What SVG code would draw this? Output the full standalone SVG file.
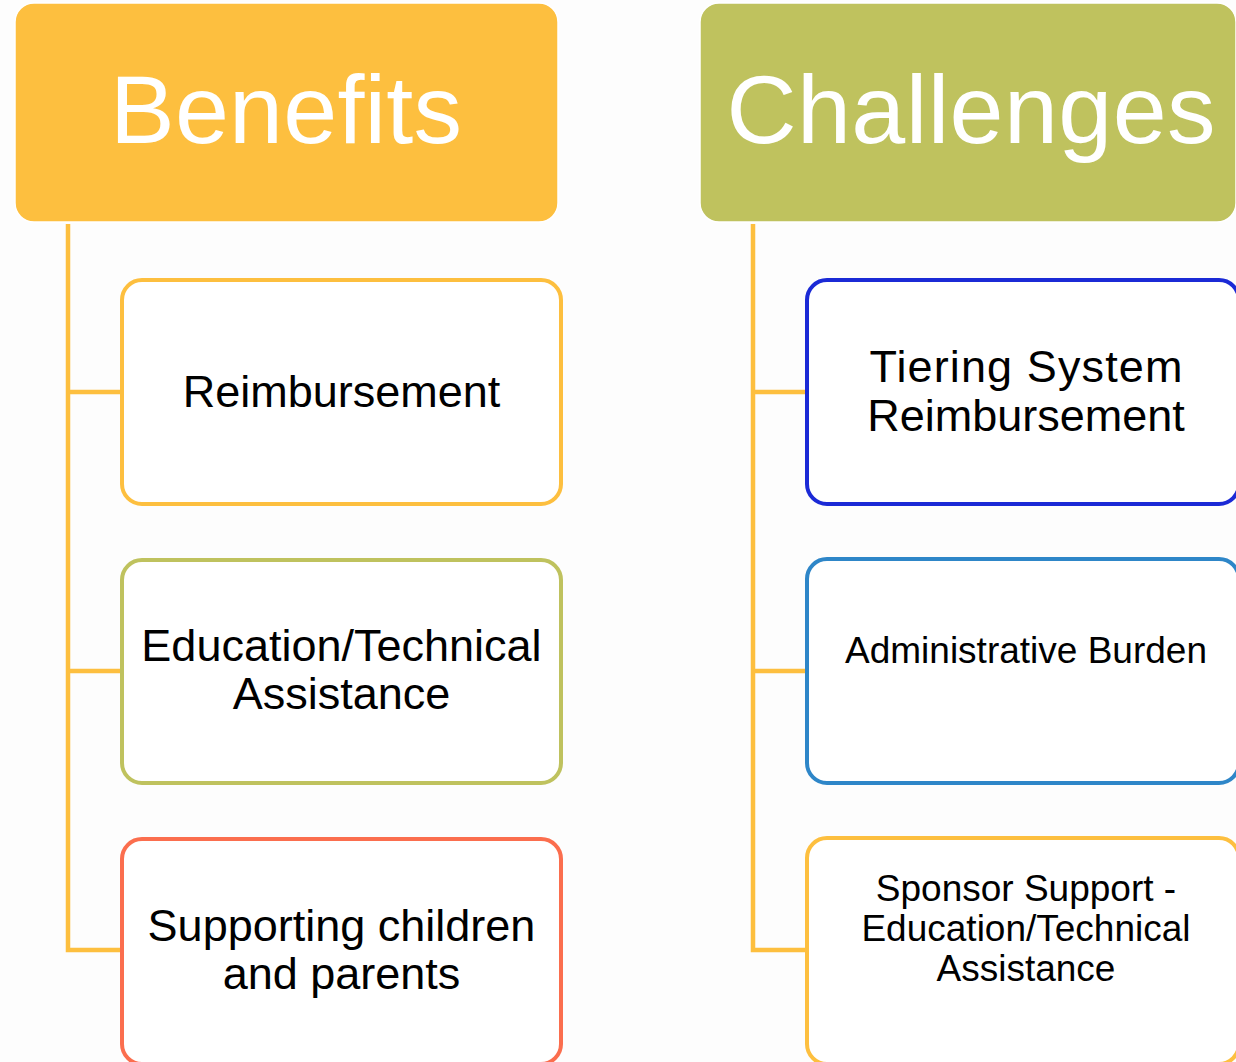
<svg xmlns="http://www.w3.org/2000/svg" width="1236" height="1062" viewBox="0 0 1236 1062">
<style>
.hdr{font-family:"Liberation Sans",Arial,sans-serif;font-size:97px;fill:#ffffff;text-anchor:middle}
.lbl{font-family:"Liberation Sans",Arial,sans-serif;font-size:45px;fill:#000000;text-anchor:middle}
.sml{font-family:"Liberation Sans",Arial,sans-serif;font-size:37px;fill:#000000;text-anchor:middle}
.box{fill:#ffffff;stroke-width:4}
.conn{fill:none;stroke:#FDBF3F;stroke-width:4.5}
</style>
<rect width="1236" height="1062" fill="#FDFDFD"/>
<g id="connectors">
<path class="conn" d="M68 224 V950 H122 M68 392 H122 M68 671 H122"/>
<path class="conn" d="M753 224 V950 H807 M753 392 H807 M753 671 H807"/>
</g>
<g id="benefits">
<rect x="15" y="3" width="543" height="219" rx="19" fill="#FDBF3F" stroke="#ffffff" stroke-width="1.5"/>
<text class="hdr" x="286" y="143" textLength="352" lengthAdjust="spacing">Benefits</text>
</g>
<g id="challenges">
<rect x="700" y="3" width="536" height="219" rx="19" fill="#BFC25E" stroke="#ffffff" stroke-width="1.5"/>
<text class="hdr" x="971" y="143" textLength="489" lengthAdjust="spacing">Challenges</text>
</g>
<g id="reimbursement">
<rect class="box" x="122" y="280" width="439" height="224" rx="20" stroke="#FDBF3F"/>
<text class="lbl" x="341.5" y="407">Reimbursement</text>
</g>
<g id="education">
<rect class="box" x="122" y="560" width="439" height="223" rx="20" stroke="#BFC25E"/>
<text class="lbl" x="341.5" y="661">Education/Technical</text>
<text class="lbl" x="341.5" y="709">Assistance</text>
</g>
<g id="supporting">
<rect class="box" x="122" y="839" width="439" height="225" rx="20" stroke="#FB6E4E"/>
<text class="lbl" x="341.5" y="941">Supporting children</text>
<text class="lbl" x="341.5" y="989">and parents</text>
</g>
<g id="tiering">
<rect class="box" x="807" y="280" width="432" height="224" rx="20" stroke="#1B2AD6"/>
<text class="lbl" x="1026" y="382" textLength="313" lengthAdjust="spacing">Tiering System</text>
<text class="lbl" x="1026" y="431">Reimbursement</text>
</g>
<g id="admin">
<rect class="box" x="807" y="559" width="432" height="224" rx="20" stroke="#2E86C8"/>
<text class="sml" x="1026" y="663">Administrative Burden</text>
</g>
<g id="sponsor">
<rect class="box" x="807" y="838" width="432" height="226" rx="20" stroke="#FDBF3F"/>
<text class="sml" x="1026" y="901">Sponsor Support -</text>
<text class="sml" x="1026" y="941">Education/Technical</text>
<text class="sml" x="1026" y="981">Assistance</text>
</g>
</svg>
